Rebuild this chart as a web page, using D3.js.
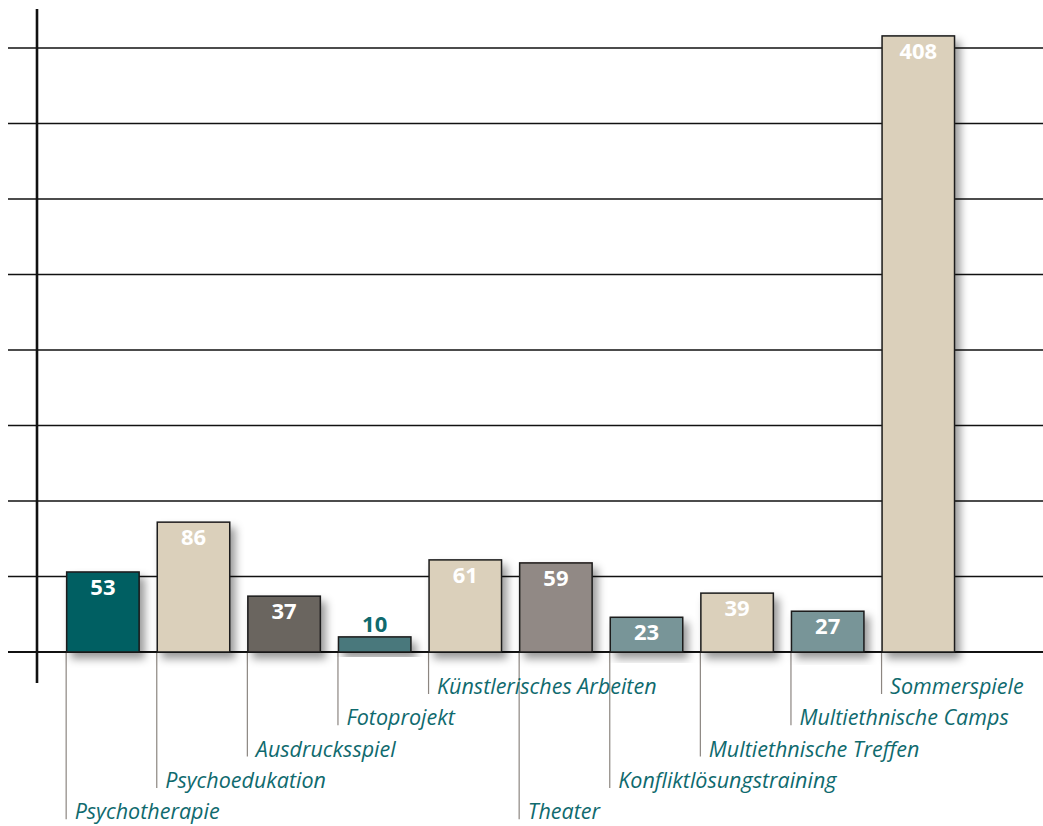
<!DOCTYPE html>
<html>
<head>
<meta charset="utf-8">
<script src="https://cdn.jsdelivr.net/npm/d3@7"></script>
<style>
  html, body { margin: 0; padding: 0; background: #fff; }
  svg { display: block; }
</style>
</head>
<body>
<div id="container"></div>
<script>
let width = 1043;
let height = 826;

// data
let categories = [
  "Psychotherapie", "Psychoedukation", "Ausdrucksspiel", "Fotoprojekt",
  "Künstlerisches Arbeiten", "Theater", "Konfliktlösungstraining",
  "Multiethnische Treffen", "Multiethnische Camps", "Sommerspiele"
];
let values = [53, 86, 37, 10, 61, 59, 23, 39, 27, 408];
let gridTicks = [0, 50, 100, 150, 200, 250, 300, 350, 400];

// styles
let barColors = ["#005e62", "#dbd0bb", "#6b655f", "#4a787c", "#dbd0bb",
                 "#918985", "#789598", "#dbd0bb", "#789598", "#dbd0bb"];
let labelColor = "#0f6a6e";
let fontFamily = "'Open Sans', 'Noto Sans', sans-serif";

let baseY = 652;

function drawChart() {
  let svg = d3.select("#container")
    .append("svg")
    .attr("width", width)
    .attr("height", height)
    .style("font-family", fontFamily);

  // shadow
  let filter = svg.append("defs").append("filter")
    .attr("id", "shadow")
    .attr("x", "-20%").attr("y", "-20%")
    .attr("width", "150%").attr("height", "150%");
  filter.append("feDropShadow")
    .attr("dx", 5).attr("dy", 6)
    .attr("stdDeviation", 4)
    .attr("flood-color", "#000")
    .attr("flood-opacity", 0.4);

  let x = d3.scaleBand()
    .domain(categories)
    .range([57.6, 963.6])
    .paddingInner(0.2)
    .paddingOuter(0.1);

  let y = d3.scaleLinear()
    .domain([0, 400])
    .range([baseY, 48]);

  let color = d3.scaleOrdinal().domain(categories).range(barColors);

  // gridlines
  svg.append("g")
    .selectAll("line")
    .data(gridTicks)
    .join("line")
    .attr("x1", 8)
    .attr("x2", width)
    .attr("y1", (d) => y(d))
    .attr("y2", (d) => y(d))
    .attr("stroke", "#111")
    .attr("stroke-width", (d) => d === 0 ? 2.2 : 1.3);

  // leader lines + category labels, staggered in 5 rows
  let rowY = (i) => 694 + (4 - (i % 5)) * 31.3;

  svg.append("g")
    .selectAll("line")
    .data(categories)
    .join("line")
    .attr("x1", (d) => x(d) - 0.5)
    .attr("x2", (d) => x(d) - 0.5)
    .attr("y1", baseY + 1)
    .attr("y2", (d, i) => rowY(i))
    .attr("stroke", "#8c8681")
    .attr("stroke-width", 1.2);

  svg.append("g")
    .selectAll("text")
    .data(categories)
    .join("text")
    .attr("x", (d) => x(d) + 8)
    .attr("y", (d, i) => rowY(i))
    .attr("fill", labelColor)
    .attr("font-style", "italic")
    .attr("font-size", 21.5)
    .text((d) => d);

  // bars
  svg.append("g")
    .selectAll("rect")
    .data(values)
    .join("rect")
    .attr("x", (d, i) => x(categories[i]))
    .attr("y", (d) => y(d))
    .attr("width", x.bandwidth())
    .attr("height", (d) => baseY - y(d))
    .attr("fill", (d, i) => color(categories[i]))
    .attr("stroke", "#1a1a1a")
    .attr("stroke-width", 1.5)
    .attr("filter", "url(#shadow)");

  // value labels
  svg.append("g")
    .selectAll("text")
    .data(values)
    .join("text")
    .attr("x", (d, i) => x(categories[i]) + x.bandwidth() / 2)
    .attr("y", (d) => (baseY - y(d) < 28) ? y(d) - 5 : y(d) + 23)
    .attr("text-anchor", "middle")
    .attr("font-weight", "bold")
    .attr("font-size", 22)
    .attr("fill", (d) => (baseY - y(d) < 28) ? labelColor : "#fff")
    .text((d) => d);

  // y axis line
  svg.append("line")
    .attr("x1", 37).attr("x2", 37)
    .attr("y1", 9).attr("y2", 683)
    .attr("stroke", "#111")
    .attr("stroke-width", 2.6);
}

drawChart();
</script>
</body>
</html>
